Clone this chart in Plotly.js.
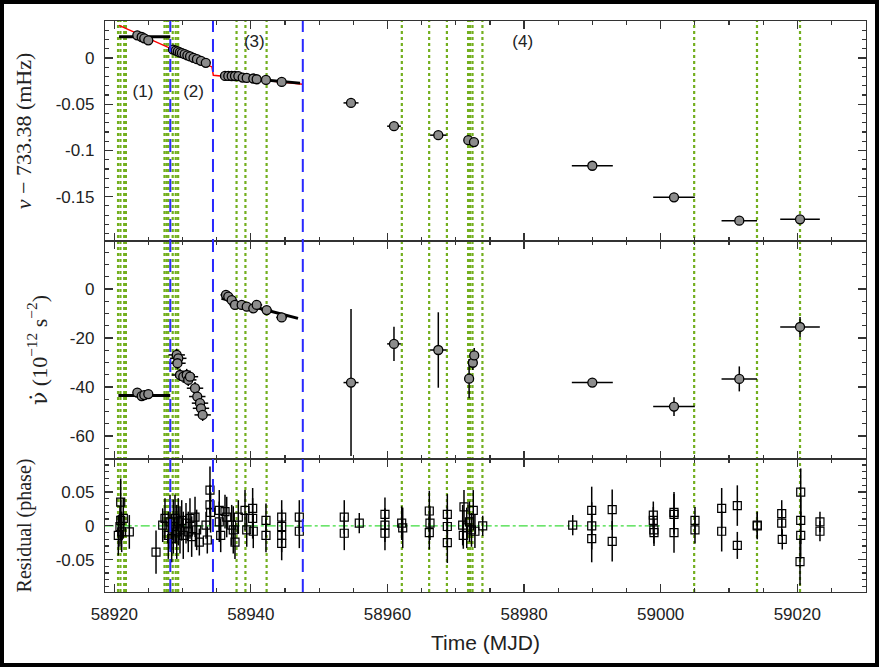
<!DOCTYPE html>
<html>
<head>
<meta charset="utf-8">
<script src="https://cdn.plot.ly/plotly-3.0.1.min.js"></script>
<style>
html,body{margin:0;padding:0;background:#000;width:879px;height:667px;overflow:hidden;}
#plot{position:absolute;left:4px;top:4px;width:871px;height:659px;background:#fff;}
</style>
</head>
<body>
<div id="plot"></div>
<script>
// ---------------- DATA ----------------
// Panel 1: nu - 733.38 (mHz)
const nuT    = [58923.37,58924.01,58924.39,58924.98,
                58928.6,58929.0,58929.3,58929.6,58929.9,58930.3,58930.7,58931.1,58931.6,58932.1,58932.7,58933.4,
                58936.21,58936.69,58937.19,58937.67,58938.16,58938.80,58939.39,58940.35,58940.85,58942.21,58944.51,
                58954.66,58960.95,58967.44,58971.83,58972.66,58989.99,59001.95,59011.51,59020.40];
const nuV    = [0.0245,0.0227,0.0213,0.0191,
                0.0091,0.0080,0.0071,0.0060,0.0053,0.0041,0.0029,0.0017,0.0002,-0.0013,-0.0031,-0.0052,
                -0.0194,-0.0194,-0.0195,-0.0195,-0.0196,-0.0212,-0.0216,-0.0222,-0.0230,-0.0238,-0.0259,
                -0.0486,-0.0738,-0.0835,-0.0889,-0.0910,-0.1166,-0.1508,-0.1760,-0.1746];
const nuTerr = [0.5,0.5,0.5,0.5,
                0.4,0.4,0.4,0.4,0.4,0.4,0.4,0.4,0.4,0.4,0.4,0.4,
                0.5,0.5,0.5,0.5,0.5,0.5,0.5,0.5,0.5,0.5,0.5,
                1.1,1.0,1.2,0.6,0.6,3.0,3.05,2.6,2.9];
// local fits (black) and global model (red)
const fit1T = [58920.7,58928.2],   fit1V = [0.0230,0.0230];
const fit2T = [58928.4,58934.0],   fit2V = [0.0097,-0.0060];
const fit3T = [58935.5,58947.2],   fit3V = [-0.0194,-0.0272];
const modelT = [58920.69,58934.30,58934.50,58947.58];
const modelV = [0.0353,-0.0097,-0.0187,-0.0284];

// Panel 2: nu-dot (1e-12 s^-2)
const ndT    = [58923.37,58924.01,58924.39,58924.98,
                58929.14,58929.37,58929.25,58929.62,58930.10,58930.60,58930.83,58931.08,58931.82,58932.15,58932.55,58932.69,58932.94,
                58936.35,58936.69,58937.19,58937.67,58938.65,58939.39,58940.35,58940.85,58942.31,58944.51,
                58954.66,58960.95,58967.44,58971.95,58972.50,58972.70,58989.99,59001.95,59011.51,59020.40];
const ndV    = [-42.3,-43.7,-43.3,-42.9,
                -26.9,-28.3,-30.3,-35.1,-35.8,-35.1,-37.1,-35.8,-40.5,-43.9,-46.6,-48.7,-51.4,
                -2.4,-3.1,-4.5,-6.5,-6.5,-7.2,-7.9,-6.5,-8.6,-11.6,
                -38.2,-22.4,-24.9,-36.6,-30.1,-27.1,-38.2,-48.0,-36.7,-15.5];
const ndErr  = [1.0,1.0,1.0,1.0,
                2.5,2.5,2.5,2.5,2.5,2.5,2.5,2.5,2.5,2.5,2.5,2.5,2.5,
                1.5,1.5,1.5,1.5,1.5,1.5,1.5,1.5,1.5,1.5,
                30.0,7.0,15.4,8.0,3.0,3.0,1.5,3.8,5.1,4.1];
const ndTerr = [0.5,0.5,0.5,0.5,
                1.2,1.2,1.2,1.2,1.2,1.2,1.2,1.2,1.2,1.2,1.2,1.2,1.2,
                0.8,0.8,0.8,0.8,0.8,0.8,0.8,0.8,0.8,0.8,
                1.1,1.0,1.2,0.6,0.6,0.6,3.0,3.05,2.6,2.9];
const ndFit1T = [58920.6,58928.2], ndFit1V = [-43.5,-43.5];
const ndFit3T = [58935.7,58946.9], ndFit3V = [-3.8,-12.0];

// Panel 3: residual (phase)
const resT = [58920.59,58920.83,58920.94,58920.94,58921.08,58921.32,58922.20,
              58926.11,58927.09,58927.42,58927.91,58928.16,58928.40,58928.64,58928.89,58929.14,58929.37,58929.62,58929.87,
              58930.10,58930.50,58930.83,58931.08,58931.33,58931.82,58932.06,58932.45,58933.43,58933.62,
              58934.01,58934.01,58934.10,58935.37,58935.37,58935.58,58936.21,58936.46,58937.19,58937.42,58937.67,
              58938.16,58939.14,58939.39,58940.26,58940.26,58940.35,58942.21,58942.21,
              58944.51,58944.51,58944.51,58944.51,58947.09,58947.09,
              58953.67,58953.67,58955.87,58959.63,58959.63,58959.63,58962.08,58962.23,
              58966.12,58966.22,58966.12,58968.76,58968.76,58968.76,
              58971.20,58971.01,58971.10,58971.60,58972.00,58972.30,58972.56,58972.80,58973.94,
              58987.12,58989.90,58989.90,58989.90,58992.90,58992.90,
              58998.92,58998.92,58999.02,58999.00,59001.95,59001.95,59001.95,
              59005.02,59005.02,59008.93,59008.93,59011.22,59011.22,59014.14,59014.14,
              59017.72,59017.72,59017.80,59020.50,59020.50,59020.50,59020.40,59023.32,59023.32];
const resV = [-0.014,-0.001,0.035,0.008,-0.009,0.011,-0.009,
              -0.039,0.001,0.011,-0.014,0.006,-0.019,-0.001,0.011,-0.009,0.006,-0.006,0.008,
              -0.014,0.004,-0.009,0.011,-0.016,0.013,-0.006,-0.024,0.001,-0.021,
              0.053,0.031,0.020,0.023,0.006,-0.014,0.021,0.013,0.001,-0.006,-0.024,
              0.013,0.023,-0.006,0.026,0.011,-0.008,0.008,-0.014,
              0.013,-0.001,-0.014,-0.026,0.013,-0.008,
              0.013,-0.011,0.004,0.017,0.001,-0.011,0.004,-0.003,
              0.022,0.004,-0.010,0.017,-0.001,-0.025,
              0.028,0.001,-0.014,-0.003,0.006,-0.006,0.023,-0.008,0.000,
              0.001,0.023,0.000,-0.019,0.024,-0.023,
              0.016,0.008,-0.010,-0.006,0.020,0.017,-0.010,
              0.008,-0.006,0.026,-0.008,0.030,-0.029,0.001,0.000,
              0.018,0.004,-0.020,0.050,0.008,-0.014,-0.053,0.006,-0.008];
const resErr = [0.030,0.030,0.035,0.030,0.030,0.030,0.025,
                0.032,0.025,0.030,0.035,0.040,0.035,0.040,0.035,0.040,0.035,0.035,0.030,
                0.035,0.030,0.030,0.030,0.030,0.030,0.030,0.020,0.020,0.020,
                0.035,0.030,0.030,0.030,0.030,0.025,0.025,0.030,0.030,0.035,0.025,
                0.025,0.030,0.025,0.030,0.030,0.025,0.025,0.025,
                0.025,0.025,0.025,0.025,0.025,0.025,
                0.025,0.025,0.015,0.025,0.025,0.025,0.025,0.030,
                0.030,0.025,0.025,0.030,0.030,0.030,
                0.025,0.030,0.020,0.030,0.030,0.025,0.030,0.025,0.015,
                0.015,0.035,0.035,0.035,0.030,0.030,
                0.020,0.020,0.020,0.020,0.030,0.030,0.030,
                0.020,0.020,0.030,0.030,0.030,0.020,0.020,0.020,
                0.020,0.020,0.015,0.035,0.035,0.035,0.035,0.015,0.015];
const zeroT = [58918.6,59000.0], zeroV = [0,0];

// Vertical markers
const greenT = [58920.55,58920.9,58921.45,58921.7,58927.35,58927.65,58927.9,58928.55,58929.0,58929.35,
                58937.9,58939.2,58942.3,58962.1,58966.1,58968.7,58971.8,58972.1,58972.45,58973.9,
                59004.9,59014.1,59020.4];
const blueT  = [58928.2,58934.45,58947.6];

// Segment labels
const segLabels = ['(1)','(2)','(3)','(4)'];
const segT = [58924.2,58931.6,58940.5,58979.8];
const segV = [-0.038,-0.038,0.017,0.017];

// Ticks
const xTicks = [58920,58940,58960,58980,59000,59020];
const xText  = ['58920','58940','58960','58980','59000','59020'];
const y1Ticks = [0,-0.05,-0.1,-0.15], y1Text = ['0','-0.05','-0.1','-0.15'];
const y2Ticks = [0,-20,-40,-60],     y2Text = ['0','-20','-40','-60'];
const y3Ticks = [0.05,0,-0.05],      y3Text = ['0.05','0','-0.05'];

// ---------------- FIGURE ----------------
const AX = '#333';
const grey = 'rgb(140,140,140)';
const circ = {symbol:'circle', size:9, color:grey, line:{color:'#000', width:1.3}};

const traces = [];
// top panel
traces.push({x:modelT, y:modelV, xaxis:'x3', yaxis:'y', mode:'lines', line:{color:'rgb(255,0,0)', width:1.5}, hoverinfo:'skip'});
[[fit1T,fit1V],[fit2T,fit2V],[fit3T,fit3V]].forEach(f=>{
  traces.push({x:f[0], y:f[1], xaxis:'x3', yaxis:'y', mode:'lines', line:{color:'#000', width:3}});
});
traces.push({x:nuT, y:nuV, xaxis:'x3', yaxis:'y', mode:'markers', marker:circ,
  error_x:{type:'data', array:nuTerr, color:'#000', thickness:1.5, width:0}});
traces.push({x:segT, y:segV, xaxis:'x3', yaxis:'y', mode:'text', text:segLabels,
  textfont:{family:'Liberation Sans, Arial, sans-serif', size:17, color:'#222'}});
// middle panel
[[ndFit1T,ndFit1V],[ndFit3T,ndFit3V]].forEach(f=>{
  traces.push({x:f[0], y:f[1], xaxis:'x2', yaxis:'y2', mode:'lines', line:{color:'#000', width:3}});
});
traces.push({x:ndT, y:ndV, xaxis:'x2', yaxis:'y2', mode:'markers', marker:circ,
  error_y:{type:'data', array:ndErr, color:'#000', thickness:1.5, width:0},
  error_x:{type:'data', array:ndTerr, color:'#000', thickness:1.5, width:0}});
// bottom panel
traces.push({x:zeroT, y:zeroV, xaxis:'x', yaxis:'y3', mode:'lines', line:{color:'rgb(60,220,60)', width:1.2, dash:'dashdot'}});
traces.push({x:resT, y:resV, xaxis:'x', yaxis:'y3', mode:'markers',
  marker:{symbol:'square-open', size:8, color:'#000', line:{width:1.2}},
  error_y:{type:'data', array:resErr, color:'#000', thickness:1.5, width:0}});

const shapes = [];
greenT.forEach(t=>shapes.push({type:'line', xref:'x', yref:'paper', x0:t, x1:t, y0:0, y1:1, layer:'below',
  line:{color:'rgb(115,175,30)', width:2.2, dash:'dot'}}));
blueT.forEach(t=>shapes.push({type:'line', xref:'x', yref:'paper', x0:t, x1:t, y0:0, y1:1, layer:'above',
  line:{color:'rgb(40,40,255)', width:2, dash:'13px,7px'}}));

const tickFont = {family:'Liberation Sans, Arial, sans-serif', size:17, color:'#222'};
const titleFont = {family:'Liberation Serif, Times New Roman, serif', size:22, color:'#222'};
const xRange = [58918.64, 59030.06];
function xax(extra){
  return Object.assign({range:xRange, showline:true, linecolor:AX, linewidth:1.2, mirror:'ticks',
    ticks:'inside', ticklen:8, tickcolor:AX, tickwidth:1.2, tickmode:'array', tickvals:xTicks, ticktext:xText,
    minor:{tickmode:'linear', tick0:58920, dtick:5, ticks:'inside', ticklen:4, tickcolor:AX, tickwidth:1.2},
    showgrid:false, zeroline:false, tickfont:tickFont}, extra);
}
function yax(extra){
  return Object.assign({showline:true, linecolor:AX, linewidth:1.2, mirror:'ticks',
    ticks:'inside', ticklen:8, tickcolor:AX, tickwidth:1.2, tickmode:'array',
    showgrid:false, zeroline:false, tickfont:tickFont, ticklabelstandoff:6}, extra);
}
const D1 = 133/571, D2 = (133+218)/571;
const layout = {
  width:871, height:659, margin:{l:101, r:9, t:17, b:71},
  paper_bgcolor:'#fff', plot_bgcolor:'#fff', showlegend:false,
  xaxis: xax({anchor:'y3', ticklabelstandoff:6,
    title:{text:'Time (MJD)', font:{family:'Liberation Sans, Arial, sans-serif', size:21, color:'#222'}, standoff:12}}),
  xaxis2: xax({anchor:'y2', matches:'x', showticklabels:false}),
  xaxis3: xax({anchor:'y', matches:'x', showticklabels:false}),
  yaxis: yax({domain:[D2,1], anchor:'x3', range:[-0.198,0.040], tickvals:y1Ticks, ticktext:y1Text,
    minor:{tickmode:'linear', tick0:0, dtick:0.01, ticks:'inside', ticklen:4, tickcolor:AX, tickwidth:1.2},
    title:{text:'<i>ν</i> − 733.38 (mHz)', font:titleFont, standoff:18}}),
  yaxis2: yax({domain:[D1,D2], anchor:'x2', range:[-69.4,19.6], tickvals:y2Ticks, ticktext:y2Text,
    minor:{tickmode:'linear', tick0:0, dtick:5, ticks:'inside', ticklen:4, tickcolor:AX, tickwidth:1.2},
    title:{text:'<span style="font-family:DejaVu Serif">ν̇</span> (10<sup>−12</sup> s<sup>−2</sup>)', font:titleFont, standoff:16}}),
  yaxis3: yax({domain:[0,D1], anchor:'x', range:[-0.098,0.099], tickvals:y3Ticks, ticktext:y3Text,
    minor:{tickmode:'linear', tick0:0, dtick:0.01, ticks:'inside', ticklen:4, tickcolor:AX, tickwidth:1.2},
    title:{text:'Residual (phase)', font:{family:'Liberation Serif, Times New Roman, serif', size:20, color:'#222'}, standoff:18}}),
  shapes: shapes
};
Plotly.newPlot('plot', traces, layout, {displayModeBar:false, staticPlot:true});
</script>
</body>
</html>
